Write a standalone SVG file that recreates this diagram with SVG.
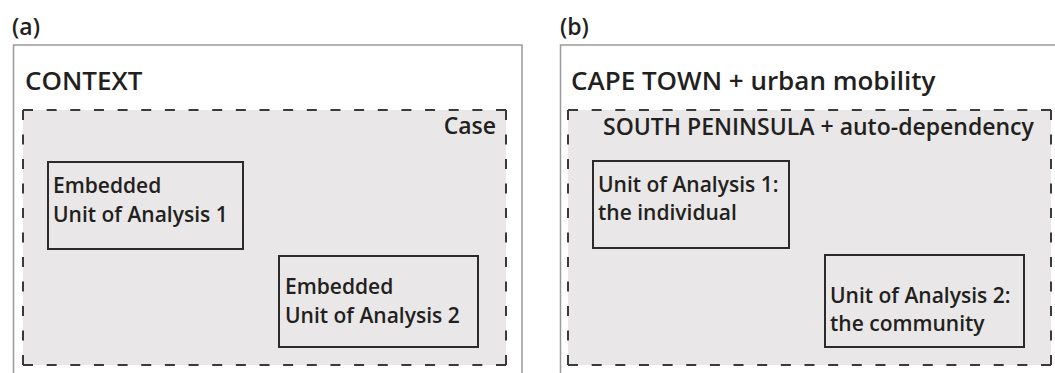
<svg xmlns="http://www.w3.org/2000/svg" width="1055" height="373" viewBox="0 0 1055 373">
  <style>
    text { font-family: "Open Sans", "Noto Sans", "Liberation Sans", sans-serif; font-weight: 600; fill: #231f20; }
    .lbl { font-size: 23px; }
    .title { font-size: 26px; }
    .sub { font-size: 23px; }
    .unit { font-size: 21px; }
    .outer { fill: #ffffff; stroke: #9a9a9a; stroke-width: 1.5; }
    .casebg { fill: #e9e7e7; stroke: none; }
    .dashH { stroke: #3a3a3a; stroke-width: 2; stroke-dasharray: 10 13.65; fill: none; }
    .dashV { stroke: #3a3a3a; stroke-width: 2; stroke-dasharray: 10 14.5; fill: none; }
    .unitbox { fill: none; stroke: #2b2b2b; stroke-width: 2; }
  </style>
  <rect width="1055" height="373" fill="#ffffff"/>

  <!-- panel (a): generic embedded case design -->
  <g id="panel-a">
    <text class="lbl" x="12" y="35">(a)</text>
    <rect class="outer" x="13.5" y="45" width="508.5" height="340"/>
    <text class="title" x="25" y="90">CONTEXT</text>
  </g>
  <g id="case-a">
    <rect class="casebg" x="23" y="110" width="483" height="255"/>
    <path class="dashH" d="M23 110 H506 M23 365 H506"/>
    <path class="dashV" d="M23 110 V365 M506 110 V365"/>
    <text class="sub" x="496" y="134" text-anchor="end">Case</text>
  </g>
  <g id="unit-a1">
    <rect class="unitbox" x="48" y="162" width="195" height="87"/>
    <text class="unit" x="53" y="193">Embedded</text>
    <text class="unit" x="53" y="222">Unit of Analysis 1</text>
  </g>
  <g id="unit-a2">
    <rect class="unitbox" x="279" y="256" width="199" height="91"/>
    <text class="unit" x="285" y="294">Embedded</text>
    <text class="unit" x="285" y="323">Unit of Analysis 2</text>
  </g>

  <!-- panel (b): Cape Town application -->
  <g id="panel-b">
    <text class="lbl" x="560" y="35">(b)</text>
    <rect class="outer" x="560.5" y="45" width="520" height="340"/>
    <text class="title" x="571" y="90">CAPE TOWN + urban mobility</text>
  </g>
  <g id="case-b">
    <rect class="casebg" x="568" y="110" width="483" height="255"/>
    <path class="dashH" d="M568 110 H1051 M568 365 H1051"/>
    <path class="dashV" d="M568 110 V365 M1051 110 V365"/>
    <text class="sub" x="603" y="135">SOUTH PENINSULA + auto-dependency</text>
  </g>
  <g id="unit-b1">
    <rect class="unitbox" x="593" y="161" width="196" height="87"/>
    <text class="unit" x="598" y="192">Unit of Analysis 1:</text>
    <text class="unit" x="598" y="220">the individual</text>
  </g>
  <g id="unit-b2">
    <rect class="unitbox" x="825" y="255" width="199" height="92"/>
    <text class="unit" x="830" y="303">Unit of Analysis 2:</text>
    <text class="unit" x="830" y="331">the community</text>
  </g>
</svg>
